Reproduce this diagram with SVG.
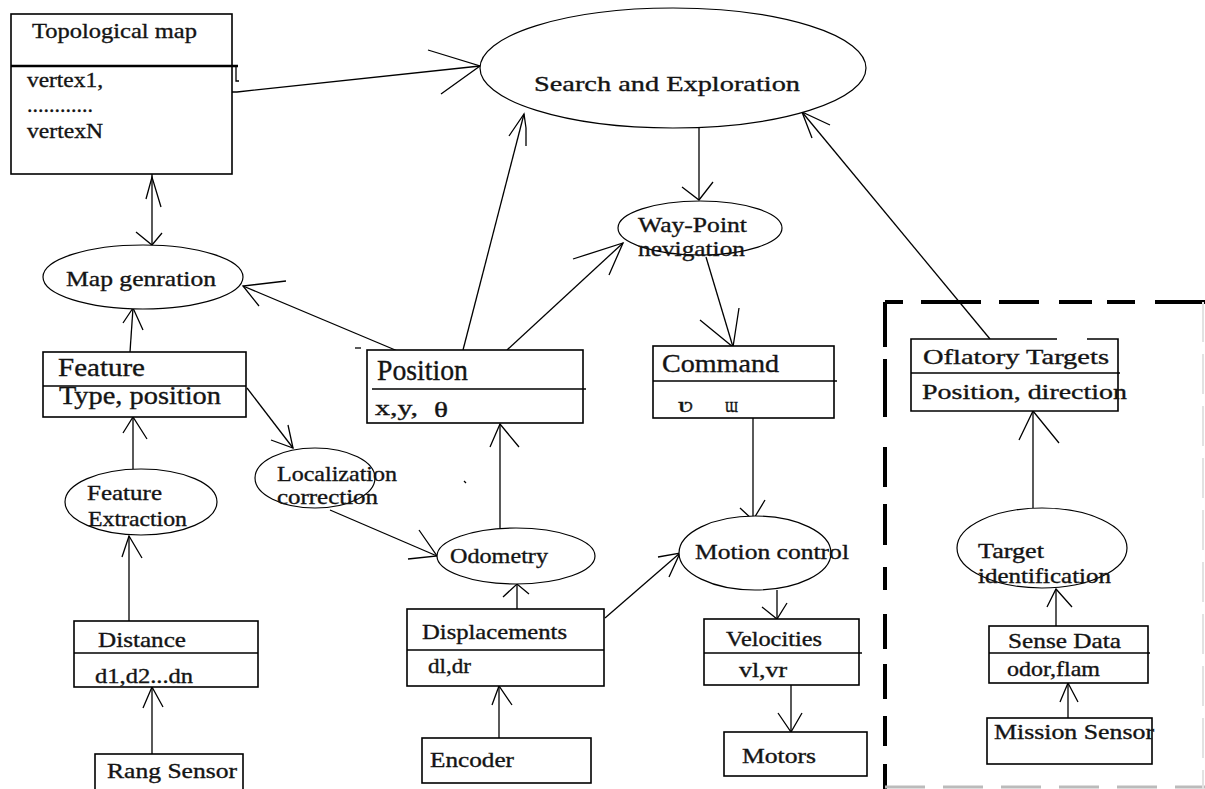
<svg xmlns="http://www.w3.org/2000/svg" width="1205" height="789" viewBox="0 0 1205 789">
<style>
.bx{fill:#fff;stroke:#000;stroke-width:1.6}
.sep{stroke:#000;stroke-width:1.4}
.el{fill:#fff;stroke:#000;stroke-width:1.2}
.ln{fill:none;stroke:#000;stroke-width:1.3}
text{font-family:"Liberation Serif","Times New Roman",serif;fill:#141414;stroke:#141414;stroke-width:0.35;font-size:22px}
.big{font-size:29px}
.md{font-size:26px}
.sm{font-size:21px}
</style>
<rect width="1205" height="789" fill="#fff"/>

<g id="frame">
<path d="M885,302 H1205" stroke="#000" stroke-width="4" stroke-dasharray="18,18,60,18,40,20,33,15,28,20,50" fill="none"/>
<path d="M885,302 V789" stroke="#000" stroke-width="4" stroke-dasharray="45,12,58,30,40,17,41,22,23,24,35,15,35,17,30,18,26,15,34,14,26,19,7" fill="none"/>
<path d="M885,787 H1205" stroke="#bbb" stroke-width="3" stroke-dasharray="40,18" fill="none"/>
<path d="M1203,302 V789" stroke="#e2e2e2" stroke-width="2" stroke-dasharray="40,12" fill="none"/>
</g>

<g id="connectors">
<path class="ln" d="M232,92 H237 L480,66"/>
<path class="ln" d="M428,50 L480,66 L441,94"/>
<path class="ln" d="M699,128 V200"/>
<path class="ln" d="M682,187 L699,200 L713,182"/>
<path class="ln" d="M152,174 V245"/>
<path class="ln" d="M146,199 L152,177 L161,207"/>
<path class="ln" d="M136,232 L152,245 L162,233"/>
<path class="ln" d="M400,352 L243,286"/>
<path class="ln" d="M286,281 L243,286 L259,306"/>
<path class="ln" d="M355,348 H361"/>
<path class="ln" d="M463,350 L524,114"/>
<path class="ln" d="M509,136 L524,114 L526,128 V146"/>
<path class="ln" d="M507,350 L623,243"/>
<path class="ln" d="M573,259 L623,243 L609,275"/>
<path class="ln" d="M706,257 L733,347"/>
<path class="ln" d="M700,320 L733,347 L739,308"/>
<path class="ln" d="M990,339 L802,112"/>
<path class="ln" d="M830,125 L802,112 L812,138"/>
<path class="ln" d="M130,352 L133,308"/>
<path class="ln" d="M123,323 L133,308 L143,330"/>
<path class="ln" d="M247,388 L293,448"/>
<path class="ln" d="M271,440 L293,448 L288,425"/>
<path class="ln" d="M133,469 V417"/>
<path class="ln" d="M123,433 L133,417 L147,439"/>
<path class="ln" d="M129,621 V536"/>
<path class="ln" d="M122,557 L129,536 L142,558"/>
<path class="ln" d="M152,754 V687"/>
<path class="ln" d="M143,708 L152,687 L163,707"/>
<path class="ln" d="M330,510 L437,556"/>
<path class="ln" d="M419,530 L437,556 L408,559"/>
<path class="ln" d="M500,528 V424"/>
<path class="ln" d="M490,447 L500,424 L519,447"/>
<path class="ln" d="M517,609 V584"/>
<path class="ln" d="M503,597 L517,584 L529,594"/>
<path class="ln" d="M499,738 V686"/>
<path class="ln" d="M492,705 L499,686 L512,705"/>
<path class="ln" d="M605,618 L680,553"/>
<path class="ln" d="M658,557 L680,553 L669,577"/>
<path class="ln" d="M753,418 V520"/>
<path class="ln" d="M740,508 L753,520 L765,500"/>
<path class="ln" d="M777,590 V619"/>
<path class="ln" d="M762,607 L777,619 L787,603"/>
<path class="ln" d="M791,685 V732"/>
<path class="ln" d="M778,713 L791,732 L802,713"/>
<path class="ln" d="M1033,508 V411"/>
<path class="ln" d="M1019,440 L1033,411 L1059,443"/>
<path class="ln" d="M1056,626 V589"/>
<path class="ln" d="M1047,607 L1056,589 L1072,607"/>
<path class="ln" d="M1068,718 V683"/>
<path class="ln" d="M1060,702 L1068,683 L1078,702"/>
<path class="ln" d="M464,481 L466,483"/>
</g>

<g id="topological-map">
<rect class="bx" x="11" y="14" width="221" height="160"/>
<path d="M11,66 H238" stroke="#000" stroke-width="2.6"/>
<path class="ln" d="M236,66 V81 H239"/>
<text x="32" y="38" font-size="22" textLength="165" lengthAdjust="spacingAndGlyphs">Topological map</text>
<text x="27" y="87" font-size="21" textLength="76" lengthAdjust="spacingAndGlyphs">vertex1,</text>
<text x="27" y="112" font-size="21" textLength="66" lengthAdjust="spacingAndGlyphs">............</text>
<text x="27" y="138" font-size="21" textLength="76" lengthAdjust="spacingAndGlyphs">vertexN</text>
</g>

<g id="search-exploration">
<ellipse class="el" cx="673" cy="68" rx="193" ry="60"/>
<text x="534" y="91" font-size="30" textLength="266" lengthAdjust="spacingAndGlyphs">Search and Exploration</text>
</g>

<g id="map-generation">
<ellipse class="el" cx="143" cy="277" rx="100" ry="32"/>
<text x="66" y="286" textLength="150" lengthAdjust="spacingAndGlyphs">Map genration</text>
</g>

<g id="way-point">
<ellipse class="el" cx="700" cy="228" rx="82" ry="27"/>
<text x="638" y="232" textLength="109" lengthAdjust="spacingAndGlyphs">Way-Point</text>
<text x="638" y="256" textLength="107" lengthAdjust="spacingAndGlyphs">nevigation</text>
</g>

<g id="feature">
<rect class="bx" x="43" y="352" width="203" height="65"/>
<path class="sep" d="M43,386 H246"/>
<text x="58" y="376" class="md" textLength="87" lengthAdjust="spacingAndGlyphs">Feature</text>
<text x="59" y="404" class="md" textLength="162" lengthAdjust="spacingAndGlyphs">Type, position</text>
</g>

<g id="position">
<rect class="bx" x="367" y="350" width="216" height="73"/>
<path class="sep" d="M372,389 H586"/>
<text x="377" y="380" class="big" textLength="91" lengthAdjust="spacingAndGlyphs">Position</text>
<text x="375" y="415" textLength="43" lengthAdjust="spacingAndGlyphs">x,y,</text>
<text x="434" y="417" font-size="27" textLength="14" lengthAdjust="spacingAndGlyphs">θ</text>
</g>

<g id="command">
<rect class="bx" x="653" y="346" width="181" height="72"/>
<path class="sep" d="M653,381 H837"/>
<text x="662" y="372" class="md" textLength="117" lengthAdjust="spacingAndGlyphs">Command</text>
<text x="678" y="412" font-size="22" font-family="DejaVu Sans, sans-serif" textLength="15" lengthAdjust="spacingAndGlyphs">ʋ</text>
<text x="725" y="412" font-size="20" font-family="DejaVu Sans, sans-serif" textLength="13" lengthAdjust="spacingAndGlyphs">ɯ</text>
</g>

<g id="oflatory-targets">
<path class="bx" d="M1057,339 H911 V411 H1118 V339 H1087"/>
<path class="sep" d="M911,373 H1120"/>
<text x="923" y="364" font-size="25" textLength="186" lengthAdjust="spacingAndGlyphs">Oflatory Targets</text>
<text x="922" y="399" font-size="25" textLength="205" lengthAdjust="spacingAndGlyphs">Position, direction</text>
</g>

<g id="localization-correction">
<ellipse class="el" cx="315" cy="478" rx="60" ry="30"/>
<text x="277" y="481" class="sm" textLength="120" lengthAdjust="spacingAndGlyphs">Localization</text>
<text x="277" y="504" class="sm" textLength="101" lengthAdjust="spacingAndGlyphs">correction</text>
</g>

<g id="feature-extraction">
<ellipse class="el" cx="141" cy="502" rx="76" ry="33"/>
<text x="87" y="500" class="sm" textLength="75" lengthAdjust="spacingAndGlyphs">Feature</text>
<text x="88" y="526" class="sm" textLength="99" lengthAdjust="spacingAndGlyphs">Extraction</text>
</g>

<g id="odometry">
<ellipse class="el" cx="516" cy="556" rx="79" ry="28"/>
<text x="450" y="563" textLength="98" lengthAdjust="spacingAndGlyphs">Odometry</text>
</g>

<g id="motion-control">
<ellipse class="el" cx="755" cy="553" rx="76" ry="37"/>
<text x="695" y="559" textLength="154" lengthAdjust="spacingAndGlyphs">Motion control</text>
</g>

<g id="target-identification">
<ellipse class="el" cx="1042" cy="548" rx="85" ry="40"/>
<text x="978" y="558" class="sm" textLength="66" lengthAdjust="spacingAndGlyphs">Target</text>
<text x="978" y="583" class="sm" textLength="133" lengthAdjust="spacingAndGlyphs">identification</text>
</g>

<g id="distance">
<rect class="bx" x="74" y="621" width="184" height="66"/>
<path class="sep" d="M74,653 H258"/>
<text x="98" y="647" class="sm" textLength="88" lengthAdjust="spacingAndGlyphs">Distance</text>
<text x="95" y="683" class="sm" textLength="98" lengthAdjust="spacingAndGlyphs">d1,d2...dn</text>
</g>

<g id="displacements">
<rect class="bx" x="407" y="609" width="197" height="77"/>
<path class="sep" d="M407,650 H604"/>
<text x="422" y="639" class="sm" textLength="145" lengthAdjust="spacingAndGlyphs">Displacements</text>
<text x="428" y="673" class="sm" textLength="43" lengthAdjust="spacingAndGlyphs">dl,dr</text>
</g>

<g id="velocities">
<rect class="bx" x="704" y="619" width="155" height="66"/>
<path class="sep" d="M704,653 H862"/>
<text x="726" y="646" class="sm" textLength="96" lengthAdjust="spacingAndGlyphs">Velocities</text>
<text x="739" y="677" class="sm" textLength="48" lengthAdjust="spacingAndGlyphs">vl,vr</text>
</g>

<g id="sense-data">
<rect class="bx" x="989" y="626" width="159" height="57"/>
<path class="sep" d="M989,653 H1150"/>
<text x="1008" y="648" class="sm" textLength="113" lengthAdjust="spacingAndGlyphs">Sense Data</text>
<text x="1007" y="676" class="sm" textLength="93" lengthAdjust="spacingAndGlyphs">odor,flam</text>
</g>

<g id="mission-sensor">
<rect class="bx" x="987" y="718" width="165" height="46"/>
<text x="994" y="739" class="sm" textLength="160" lengthAdjust="spacingAndGlyphs">Mission Sensor</text>
</g>

<g id="rang-sensor">
<rect class="bx" x="95" y="754" width="148" height="40"/>
<text x="107" y="778" class="sm" textLength="130" lengthAdjust="spacingAndGlyphs">Rang Sensor</text>
</g>

<g id="encoder">
<rect class="bx" x="422" y="738" width="169" height="45"/>
<text x="430" y="767" class="sm" textLength="84" lengthAdjust="spacingAndGlyphs">Encoder</text>
</g>

<g id="motors">
<rect class="bx" x="724" y="732" width="143" height="44"/>
<text x="742" y="763" class="sm" textLength="74" lengthAdjust="spacingAndGlyphs">Motors</text>
</g>
</svg>
